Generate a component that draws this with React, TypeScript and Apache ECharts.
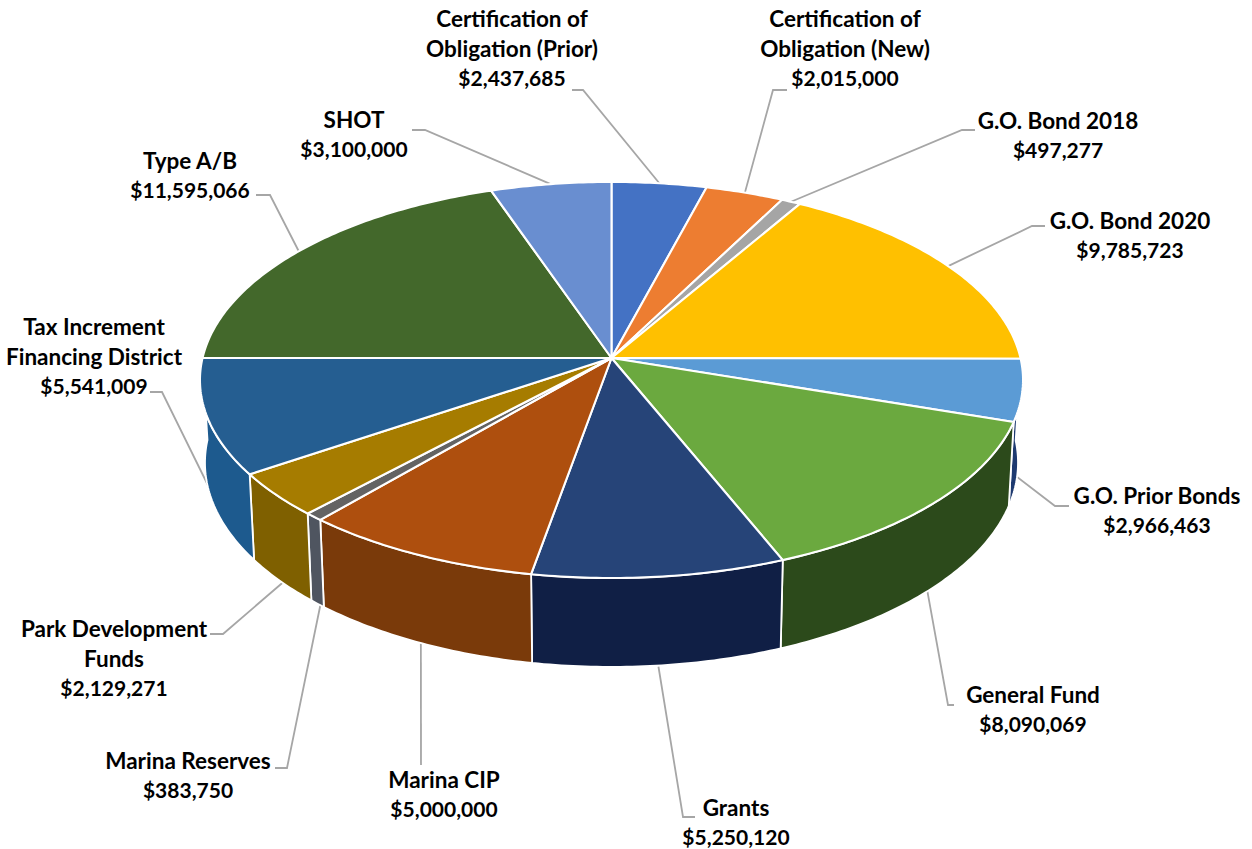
import React, { useEffect, useRef } from "react";
import * as echarts from "echarts";

const categories = [
  "Certification of\nObligation (Prior)",
  "Certification of\nObligation (New)",
  "G.O. Bond 2018",
  "G.O. Bond 2020",
  "G.O. Prior Bonds",
  "General Fund",
  "Grants",
  "Marina CIP",
  "Marina Reserves",
  "Park Development\nFunds",
  "Tax Increment\nFinancing District",
  "Type A/B",
  "SHOT",
];
const values = [2437685, 2015000, 497277, 9785723, 2966463, 8090069, 5250120, 5000000, 383750, 2129271, 5541009, 11595066, 3100000];
const topColors = ["#4472C4", "#ED7D31", "#A5A5A5", "#FFC000", "#5B9BD5", "#6BA93F", "#264478", "#AE4F0E", "#636363", "#A67C00", "#255E91", "#43682B", "#698ED0"];
const sideColors = ["#2F4F88", "#A45722", "#737373", "#B18500", "#1E3A70", "#2C4A1B", "#101F45", "#7A3A0A", "#4F5560", "#7F6000", "#1D5A8E", "#2F481E", "#49638F"];

// label centre (x, y of the middle line block) and the elbow of each leader line: [textEndX, textEndY, elbowX]
const labelCentres = [[512, 48], [845, 48], [1058, 135], [1130, 235], [1157, 510], [1033, 709], [736, 822], [444, 794], [188, 775], [114, 658], [94, 356], [190, 175], [354, 134]];
const leaderElbows = [[572, 90, 583], [787, 90, 773], [975, 130, 962], [1045, 226, 1032], [1069, 506, 1055], [954, 705, 948], [695, 817, 683], [421, 765, 421], [275, 768, 287], [210, 634, 223], [150, 392, 162], [256, 195, 270], [412, 130, 425]];

const total = values.reduce((a, b) => a + b, 0);
const startAngles: number[] = [];
values.reduce((acc, v) => {
  startAngles.push((acc / total) * 360);
  return acc + v;
}, 0);

const CX = 611.5;
const TOP = { y: 358, a: 409, b: 195.6 };
const BOTTOM = { y: 440, a: 404, b: 201.7 };
const FRONT_ANCHOR = { y: 441, a: 400, b: 201.7 };
const P = 0.111;
const LINE_GAP = 29.5;

function project(deg: number, f: { y: number; a: number; b: number }) {
  const t = (deg * Math.PI) / 180;
  const u = Math.sin(t);
  const v = Math.cos(t);
  const w = 1 + P * v;
  return [CX + (f.a * u) / w, f.y - (f.b * v) / w];
}

function arc(a0: number, a1: number, f: { y: number; a: number; b: number }) {
  const pts: number[][] = [];
  const n = Math.max(2, Math.ceil(Math.abs(a1 - a0) / 0.75));
  for (let i = 0; i <= n; i++) pts.push(project(a0 + ((a1 - a0) * i) / n, f));
  return pts;
}

const renderItem = (params: any, api: any) => {
  const i = params.dataIndex;
  const value = api.value(0);
  const a0 = startAngles[i];
  const a1 = a0 + (value / total) * 360;
  const children: any[] = [];

  const s0 = Math.max(a0, 90);
  const s1 = Math.min(a1, 270);
  if (s1 > s0) {
    children.push({
      type: "polygon",
      z2: 1,
      shape: { points: [...arc(s0, s1, TOP), ...arc(s1, s0, BOTTOM)] },
      style: { fill: sideColors[i], stroke: "#FFFFFF", lineWidth: 1.8, lineJoin: "round" },
    });
  }
  children.push({
    type: "polygon",
    z2: 2,
    shape: { points: [[CX, TOP.y], ...arc(a0, a1, TOP)] },
    style: { fill: topColors[i], stroke: "#FFFFFF", lineWidth: 2.1, lineJoin: "round" },
  });

  const mid = (a0 + a1) / 2;
  const anchor = project(mid, Math.cos((mid * Math.PI) / 180) > 0 ? TOP : FRONT_ANCHOR);
  const [ex, ey, elbowX] = leaderElbows[i];
  children.push({
    type: "polyline",
    z2: 0,
    shape: { points: [[ex, ey], [elbowX, ey], anchor] },
    style: { stroke: "#A6A6A6", fill: null, lineWidth: 1.8 },
  });
  const [lx, ly] = labelCentres[i];
  const lines = `${categories[i]}\n$${value.toLocaleString("en-US")}`.split("\n");
  lines.forEach((line, k) => {
    const isValue = k === lines.length - 1;
    children.push({
      type: "text",
      z2: 4,
      x: lx,
      y: ly + (k - (lines.length - 1) / 2) * LINE_GAP,
      style: {
        text: line,
        font: `bold ${isValue ? 21 : 22.5}px Lato, "Open Sans", sans-serif`,
        fill: "#000000",
        align: "center",
        verticalAlign: "middle",
      },
    });
  });
  return { type: "group", children };
};

export default function App() {
  const ref = useRef<HTMLDivElement>(null);
  useEffect(() => {
    const chart = echarts.init(ref.current!, null, { renderer: "svg" });
    chart.setOption({
      animation: false,
      backgroundColor: "#FFFFFF",
      series: [
        {
          type: "custom",
          coordinateSystem: "none",
          silent: true,
          clip: false,
          data: values.map((v) => [v]),
          encode: { value: 0 },
          renderItem,
        },
      ],
    });
    return () => chart.dispose();
  }, []);
  return <div ref={ref} style={{ position: "absolute", left: 0, top: 0, width: 1252, height: 849 }} />;
}
